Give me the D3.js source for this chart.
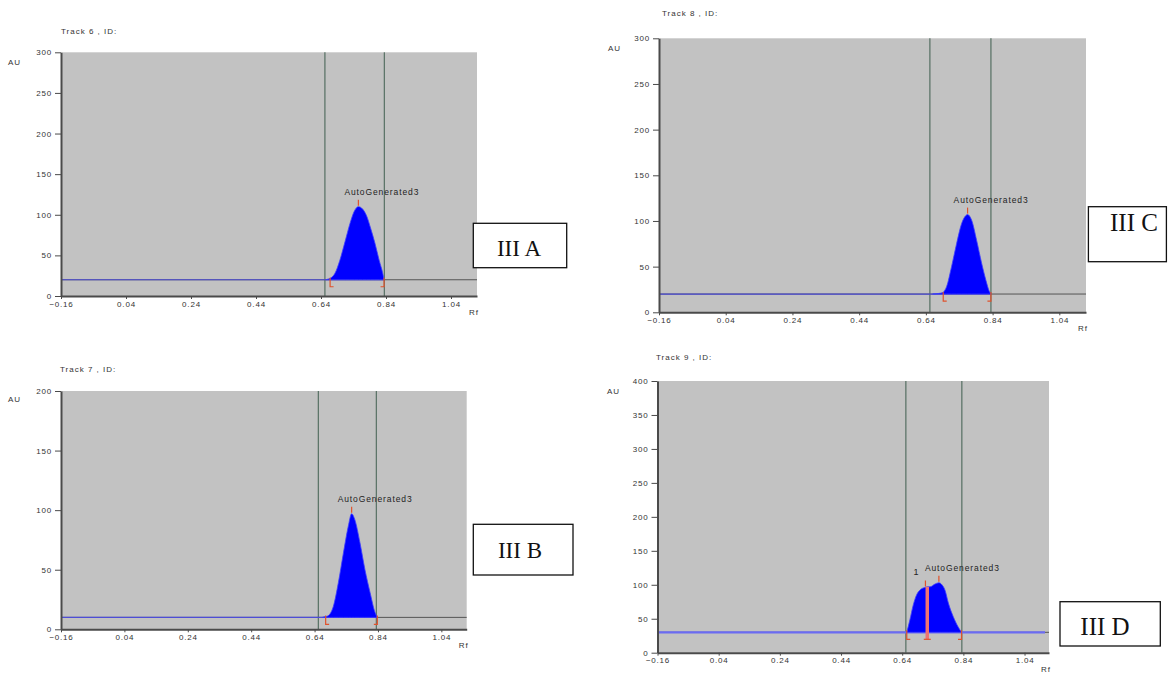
<!DOCTYPE html>
<html><head><meta charset="utf-8">
<script src="https://cdn.jsdelivr.net/npm/d3@7/dist/d3.min.js"></script>
<style>
body{margin:0;background:#fff;}
svg{display:block;font-family:Arial,"Liberation Sans",sans-serif;}
</style>
</head><body>
<svg id="c" width="1168" height="673"></svg>
<script>
// ---------- data ----------
const rfTicks = [-0.16, 0.04, 0.24, 0.44, 0.64, 0.84, 1.04];
const rfDomain = [-0.16, 1.12];
const trackTitles = ["Track 6 , ID:", "Track 7 , ID:", "Track 8 , ID:", "Track 9 , ID:"];
const panelLabels = ["III A", "III B", "III C", "III D"];
const auMax = [300, 200, 300, 400];
const auTickStep = 50;
const baselineAU = [20, 10, 20, 30];
const windowRf = [0.652, 0.835];
const peakName = "AutoGenerated3";

// peak profiles [Rf, AU]
const peakA = [[0.655,20],[0.663,21],[0.673,23],[0.683,28],[0.698,44],[0.714,67],[0.729,89],[0.742,104],[0.755,110],[0.768,107],[0.781,98],[0.793,83],[0.806,65],[0.819,44],[0.830,28],[0.834,20]];
const peakB = [[0.665,10],[0.672,10.5],[0.680,11],[0.689,13],[0.699,19],[0.715,39],[0.731,64],[0.746,86],[0.757,97],[0.767,92],[0.783,73],[0.799,50],[0.815,31],[0.831,14],[0.838,10]];
const peakC = [[0.660,20],[0.685,21],[0.692,22],[0.702,28],[0.717,50],[0.732,75],[0.747,97],[0.760,106],[0.765,107],[0.777,101],[0.792,79],[0.807,54],[0.820,35],[0.830,23],[0.835,20]];
const peakD = [[0.655,30],[0.665,48],[0.676,70],[0.687,85],[0.700,93],[0.714,96],[0.722,97],[0.731,97],[0.747,101],[0.760,103],[0.770,100],[0.780,92],[0.791,73],[0.807,53],[0.823,38],[0.834,30]];
const peaks = [peakA, peakB, peakC, peakD];

// integration limits (start / end) and apex positions, Rf
const peakStartRf = [0.668, 0.675, 0.692, 0.655];
const peakEndRf   = [0.834, 0.838, 0.835, 0.834];
const apexRf      = [[0.755], [0.757], [0.765], [0.716, 0.760]];
const apexLabels  = [[peakName], [peakName], [peakName], ["1", peakName]];
const splitRf     = [null, null, null, 0.722];

// ---------- layout ----------
const layout = [
  {l:61,    r:477,   t:52.3, b:296,   title:[61,34],    au:[8,65],     box:[473.3,223.3,93.4,44.4], lbl:[519,256],   fs:23},
  {l:61,    r:466.7, t:391,  b:629.3, title:[60,372],   au:[8,402],    box:[473.3,524.3,99.7,50.7], lbl:[520,558],   fs:23},
  {l:659,   r:1086,  t:38.3, b:312.3, title:[662,16],   au:[608,50.5], box:[1088.4,206.7,78,55],    lbl:[1134,230.5],fs:25},
  {l:657.5, r:1049,  t:381,  b:652.7, title:[656,359.5],au:[607,393.5],box:[1060,601.7,100.3,44.3], lbl:[1105,635],  fs:25}
];

const svg = d3.select("#c");
const smallFont = "8px";

layout.forEach((L, i) => {
  const g = svg.append("g");
  const x = d3.scaleLinear().domain(rfDomain).range([L.l, L.r]);
  const y = d3.scaleLinear().domain([0, auMax[i]]).range([L.b, L.t]);
  const base = baselineAU[i];

  g.append("rect").attr("x", L.l).attr("y", L.t).attr("width", L.r - L.l).attr("height", L.b - L.t)
    .attr("fill", "#c2c2c2");

  // window lines
  g.selectAll(".vl").data(windowRf).join("line")
    .attr("x1", d => x(d)).attr("x2", d => x(d)).attr("y1", L.t).attr("y2", L.b)
    .attr("stroke", "#5d7569").attr("stroke-width", 1.3);

  // raw signal line at baseline
  g.append("line").attr("x1", L.l).attr("x2", L.r).attr("y1", y(base)).attr("y2", y(base))
    .attr("stroke", "#555", "stroke-width").attr("stroke-width", 1);
  // blue baseline
  const isD = i === 3;
  g.append("line").attr("x1", L.l).attr("x2", isD ? L.r - 4 : x(peakEndRf[i])).attr("y1", y(base)).attr("y2", y(base))
    .attr("stroke", isD ? "#6b6bf2" : "#4d4dd6").attr("stroke-width", isD ? 2.2 : 1.2);

  // peak area
  const area = d3.area().x(d => x(d[0])).y0(y(base)).y1(d => y(d[1])).curve(d3.curveMonotoneX);
  g.append("path").datum(peaks[i]).attr("d", area)
    .attr("fill", "#0000ff").attr("stroke", "#3d3dff").attr("stroke-width", 0.8);

  const red = "#e0522c";
  // start / end brackets
  const yb = y(base);
  g.append("path").attr("d", `M${x(peakStartRf[i])},${yb-2}L${x(peakStartRf[i])},${yb+7}L${x(peakStartRf[i])+3.5},${yb+7}`)
    .attr("fill", "none").attr("stroke", red).attr("stroke-width", 1.2);
  g.append("path").attr("d", `M${x(peakEndRf[i])},${yb-2}L${x(peakEndRf[i])},${yb+7}L${x(peakEndRf[i])-3.5},${yb+7}`)
    .attr("fill", "none").attr("stroke", red).attr("stroke-width", 1.2);

  // split line (panel D)
  if (splitRf[i] !== null) {
    const sx = x(splitRf[i]);
    const top = y(97);
    g.append("line").attr("x1", sx).attr("x2", sx).attr("y1", top).attr("y2", yb + 7)
      .attr("stroke", "#f07272").attr("stroke-width", 3.5);
    g.append("line").attr("x1", sx - 3.5).attr("x2", sx + 3.5).attr("y1", yb + 7).attr("y2", yb + 7)
      .attr("stroke", red).attr("stroke-width", 1.2);
  }

  // apex ticks + labels
  apexRf[i].forEach((rf, k) => {
    const pk = peaks[i];
    // nearest profile value
    let best = pk[0];
    pk.forEach(p => { if (Math.abs(p[0] - rf) < Math.abs(best[0] - rf)) best = p; });
    const ay = y(best[1]);
    g.append("line").attr("x1", x(rf)).attr("x2", x(rf)).attr("y1", ay - 1).attr("y2", ay - 7)
      .attr("stroke", red).attr("stroke-width", 1.2);
    const lbl = apexLabels[i][k];
    g.append("text").attr("x", lbl === "1" ? x(rf) - 12 : x(rf) - 14).attr("y", ay - 12)
      .attr("font-size", lbl === "1" ? "9px" : "8.5px").attr("letter-spacing", "0.9px")
      .attr("fill", "#222").text(lbl);
  });

  // axes
  const yTicks = d3.range(0, auMax[i] + 1, auTickStep);
  const ya = g.append("g").attr("transform", `translate(${L.l},0)`)
    .call(d3.axisLeft(y).tickValues(yTicks).tickSize(6).tickSizeOuter(0).tickPadding(3).tickFormat(d3.format("d")));
  const xa = g.append("g").attr("transform", `translate(0,${L.b})`)
    .call(d3.axisBottom(x).tickValues(rfTicks).tickSize(3).tickSizeOuter(0).tickPadding(2).tickFormat(d3.format(".2f")));
  [ya, xa].forEach(a => {
    a.select(".domain").attr("stroke", "#4a4a4a").attr("stroke-width", 2);
    a.selectAll(".tick line").attr("stroke", "#4a4a4a").attr("stroke-width", 1);
    a.selectAll(".tick text").attr("font-size", smallFont).attr("letter-spacing", "0.8px")
      .attr("fill", "#333").attr("font-family", "Arial, 'Liberation Sans', sans-serif");
  });

  // titles / axis names
  g.append("text").attr("x", L.title[0]).attr("y", L.title[1]).attr("font-size", smallFont)
    .attr("letter-spacing", "1px").attr("fill", "#333").text(trackTitles[i]);
  g.append("text").attr("x", L.au[0]).attr("y", L.au[1]).attr("font-size", smallFont)
    .attr("letter-spacing", "1px").attr("fill", "#333").text("AU");
  g.append("text").attr("x", L.r + 2).attr("y", L.b + 19).attr("text-anchor", "end").attr("font-size", smallFont)
    .attr("letter-spacing", "1px").attr("fill", "#333").text("Rf");

  // panel label box
  g.append("rect").attr("x", L.box[0]).attr("y", L.box[1]).attr("width", L.box[2]).attr("height", L.box[3])
    .attr("fill", "#fff").attr("stroke", "#111").attr("stroke-width", 1.3);
  g.append("text").attr("x", L.lbl[0]).attr("y", L.lbl[1]).attr("text-anchor", "middle")
    .attr("font-family", "'Liberation Serif', 'DejaVu Serif', serif").attr("font-size", L.fs + "px")
    .attr("fill", "#111").text(panelLabels[i]);
});
</script>
</body></html>
